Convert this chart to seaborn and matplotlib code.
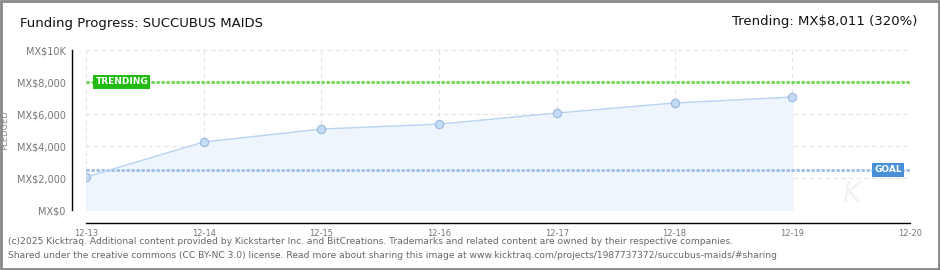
import matplotlib
matplotlib.use("Agg")
import matplotlib.pyplot as plt
import numpy as np
import pandas as pd
import seaborn as sns
from matplotlib.patches import Rectangle
from matplotlib.ticker import FixedLocator

# --- data ---
dates = ['12-13', '12-14', '12-15', '12-16', '12-17', '12-18', '12-19', '12-20']
pledged = [2060, 4250, 5060, 5370, 6060, 6690, 7060]
goal = 2500
trending = 8011
ytick_vals = [0, 2000, 4000, 6000, 8000, 10000]
ytick_labels = ['MX$0', 'MX$2,000', 'MX$4,000', 'MX$6,000', 'MX$8,000', 'MX$10K']

df = pd.DataFrame({'day': np.arange(len(pledged)), 'pledged': pledged})

sns.set_style("white")
plt.rcParams['font.family'] = ['DejaVu Sans']

fig = plt.figure(figsize=(9.4, 2.7), dpi=100)
ax = fig.add_axes([86 / 940, 60 / 270, 824 / 940, 160 / 270])

# fill + line
ax.fill_between(df['day'], 0, df['pledged'], color='#eef5fd', zorder=1)
sns.lineplot(data=df, x='day', y='pledged', ax=ax, color='#b8d4f0', lw=1,
             marker='o', markersize=6, markerfacecolor='#c4dbf6',
             markeredgecolor='#99b8dd', markeredgewidth=0.8, zorder=4)

# goal / trending lines
ax.axhline(trending, color='#6cd850', lw=2, ls=(0, (1.2, 0.6)), zorder=3)
ax.axhline(goal, color='#9dbde0', lw=2, ls=(0, (1.2, 0.6)), zorder=3)

ax.set_xlim(0, len(dates) - 1)
ax.set_ylim(0, 10000)
ax.set_xticks(np.arange(len(dates)))
ax.set_xticklabels(dates)
ax.set_yticks(ytick_vals)
ax.set_yticklabels(ytick_labels)
ax.yaxis.set_minor_locator(FixedLocator([1000, 3000, 5000, 7000, 9000]))

ax.grid(True, which='major', color='#e2e2e2', ls=(0, (4, 3)), lw=0.8)
ax.set_axisbelow(True)

for s in ['top', 'right']:
    ax.spines[s].set_visible(False)
ax.spines['left'].set_position(('outward', 10))
ax.spines['bottom'].set_position(('outward', 9))
ax.spines['bottom'].set_bounds(0, len(dates) - 1)
for s in ['left', 'bottom']:
    ax.spines[s].set_color('black')
    ax.spines[s].set_linewidth(1)

ax.tick_params(axis='y', which='major', direction='inout', length=5, width=1,
               color='black', labelsize=7, labelcolor='#777777', pad=2)
ax.tick_params(axis='y', which='minor', direction='inout', length=4, width=1,
               color='red')
ax.tick_params(axis='x', which='major', direction='inout', length=6, width=1,
               color='black', labelsize=6, labelcolor='#777777', pad=2)
ax.set_xlabel('')
ax.set_ylabel('')

fig.text(5 / 940, 1 - 130 / 270, 'PLEDGED', rotation=90, fontsize=6,
         color='#888888', ha='center', va='center')

# labels on lines
ax.text(0.08, trending, 'TRENDING', fontsize=6.5, color='white', weight='bold',
        ha='left', va='center', zorder=6,
        bbox=dict(boxstyle='square,pad=0.25', fc='#22bb11', ec='none'))
ax.text(6.93, goal, 'GOAL', fontsize=6.5, color='white', weight='bold',
        ha='right', va='center', zorder=6,
        bbox=dict(boxstyle='square,pad=0.25', fc='#4a90d9', ec='none'))

# faint watermark, kept clear of the goal label
ax.text(6.5, 100, 'K', fontsize=20, color='#f2f2f2', style='italic',
        ha='center', va='bottom', zorder=0.5)

# title and trending text
fig.text(20 / 940, 1 - 24 / 270, 'Funding Progress: SUCCUBUS MAIDS',
         fontsize=9.5, color='#111111', ha='left', va='center')
fig.text(917 / 940, 1 - 22 / 270, 'Trending: MX$8,011 (320%)',
         fontsize=9.5, color='#111111', ha='right', va='center')

# footer
fig.text(8 / 940, 1 - 242 / 270,
         '(c)2025 Kicktraq. Additional content provided by Kickstarter Inc. and BitCreations. '
         'Trademarks and related content are owned by their respective companies.',
         fontsize=6.6, color='#666666', ha='left', va='center')
fig.text(8 / 940, 1 - 256 / 270,
         'Shared under the creative commons (CC BY-NC 3.0) license. Read more about sharing this image at '
         'www.kicktraq.com/projects/1987737372/succubus-maids/#sharing',
         fontsize=6.6, color='#666666', ha='left', va='center')

# frame
fig.patches.append(Rectangle((0.001, 0.002), 0.998, 0.996, transform=fig.transFigure,
                             fill=False, ec='#888888', lw=2))

fig.savefig('out.png', dpi=100)
